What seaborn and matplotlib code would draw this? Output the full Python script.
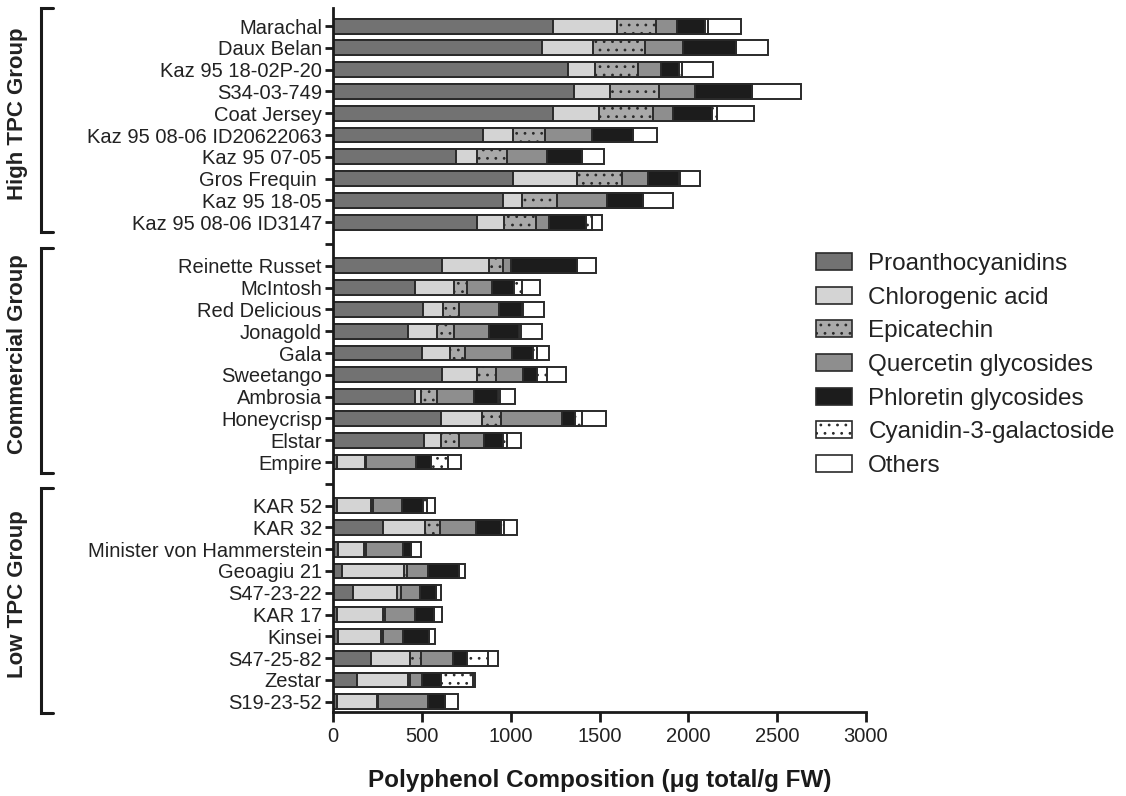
import numpy as np
import pandas as pd
import matplotlib
matplotlib.use("Agg")
import matplotlib.pyplot as plt
import matplotlib.transforms as mtransforms
from matplotlib.patches import Patch
import seaborn as sns

# ---------------- data ----------------
high = ["Marachal", "Daux Belan", "Kaz 95 18-02P-20", "S34-03-749", "Coat Jersey",
        "Kaz 95 08-06 ID20622063", "Kaz 95 07-05", "Gros Frequin ", "Kaz 95 18-05",
        "Kaz 95 08-06 ID3147"]
commercial = ["Reinette Russet", "McIntosh", "Red Delicious", "Jonagold", "Gala",
              "Sweetango", "Ambrosia", "Honeycrisp", "Elstar", "Empire"]
low = ["KAR 52", "KAR 32", "Minister von Hammerstein", "Geoagiu 21", "S47-23-22",
       "KAR 17", "Kinsei", "S47-25-82", "Zestar", "S19-23-52"]
varieties = high + commercial + low

components = ["Proanthocyanidins", "Chlorogenic acid", "Epicatechin",
              "Quercetin glycosides", "Phloretin glycosides",
              "Cyanidin-3-galactoside", "Others"]

proanthocyanidins = [1236, 1174, 1324, 1354, 1240, 842, 690, 1011, 958, 809,
                     612, 463, 508, 420, 501, 615, 460, 606, 512, 24,
                     21, 283, 30, 51, 114, 21, 30, 214, 133, 21]
chlorogenic_acid = [360, 291, 150, 203, 258, 173, 118, 364, 107, 153,
                    266, 218, 109, 163, 157, 197, 33, 232, 94, 156,
                    191, 235, 144, 349, 248, 262, 240, 219, 291, 225]
epicatechin = [221, 292, 244, 276, 301, 178, 169, 251, 194, 180,
               80, 75, 90, 98, 83, 103, 90, 106, 103, 5,
               11, 84, 10, 18, 19, 10, 10, 60, 9, 8]
quercetin = [117, 214, 129, 206, 116, 263, 229, 148, 281, 75,
             42, 139, 225, 199, 268, 156, 212, 343, 139, 282,
             167, 201, 208, 118, 109, 168, 116, 184, 68, 282]
phloretin = [159, 297, 102, 319, 216, 234, 193, 175, 206, 205,
             375, 125, 130, 165, 115, 79, 132, 75, 107, 84,
             115, 141, 47, 175, 90, 107, 146, 79, 107, 94]
cyanidin = [15, 0, 13, 0, 31, 0, 0, 6, 0, 34,
            0, 45, 9, 11, 22, 52, 14, 37, 22, 94,
            22, 18, 0, 0, 0, 0, 0, 114, 178, 0]
others = [186, 182, 175, 277, 207, 135, 128, 110, 169, 59,
          103, 98, 116, 120, 71, 111, 85, 139, 83, 74,
          47, 72, 54, 30, 28, 44, 30, 57, 15, 75]

groups = ["High TPC Group", "Commercial Group", "Low TPC Group"]

# ---------------- styles ----------------
colors = ["#727272", "#d4d4d4", "#a9a9a9", "#8e8e8e", "#1c1c1c", "#ffffff", "#ffffff"]
hatches = [None, None, "..", None, None, "..", None]

series = [proanthocyanidins, chlorogenic_acid, epicatechin, quercetin,
          phloretin, cyanidin, others]
df = pd.DataFrame({"Variety": varieties})
cum = np.zeros(len(varieties))
for name, vals in zip(components, series):
    cum = cum + np.array(vals, dtype=float)
    df[name] = cum.copy()

order = high + [" "] + commercial + ["  "] + low

sns.set_style("white")
plt.rcParams["font.family"] = ["Liberation Sans", "DejaVu Sans"]
plt.rcParams["hatch.linewidth"] = 0.8
plt.rcParams["hatch.color"] = "#2a2a2a"

fig = plt.figure(figsize=(11.26, 7.96), dpi=100)
ax = fig.add_axes([333 / 1126, 1 - 712 / 796, (866 - 333) / 1126, (712 - 8) / 796])

for i in range(len(components) - 1, -1, -1):
    sns.barplot(data=df, x=components[i], y="Variety", order=order, orient="h",
                color=colors[i], saturation=1, errorbar=None, width=0.68,
                edgecolor="#2a2a2a", linewidth=1.4, hatch=hatches[i], ax=ax)

ax.set_xlim(0, 3000)
ax.set_ylim(31.47, -0.83)
ax.set_xticks([0, 500, 1000, 1500, 2000, 2500, 3000])
ax.set_ylabel("")
ax.set_xlabel("Polyphenol Composition (\u03bcg total/g FW)", fontsize=17.5,
              fontweight="bold", labelpad=17, color="#1a1a1a")
for s in ["top", "right"]:
    ax.spines[s].set_visible(False)
for s in ["left", "bottom"]:
    ax.spines[s].set_linewidth(2)
    ax.spines[s].set_color("#1a1a1a")
ax.tick_params(axis="x", direction="out", length=7, width=2, labelsize=14.5,
               colors="#1a1a1a", labelcolor="#222222", bottom=True)
ax.tick_params(axis="y", direction="out", length=6, width=2, labelsize=14.5,
               colors="#1a1a1a", labelcolor="#222222", left=True, pad=2)

# group brackets
trans = mtransforms.blended_transform_factory(fig.transFigure, ax.transData)
bx = 41 / 1126
ex = 53 / 1126
brackets = [(-0.83, 9.45), (10.18, 20.5), (21.2, 31.5)]
for (y0, y1), g in zip(brackets, groups):
    ax.plot([ex, bx, bx, ex], [y0, y0, y1, y1], transform=trans, color="#1a1a1a",
            lw=2.2, clip_on=False, solid_joinstyle="miter")
    ax.text(18 / 1126, (y0 + y1) / 2 - 0.3, g, transform=trans, rotation=90,
            ha="center", va="center", fontsize=16, fontweight="bold",
            color="#222222")

# legend
handles = [Patch(facecolor=c, edgecolor="#2a2a2a", hatch=h, linewidth=1.2)
           for c, h in zip(colors, hatches)]
fig.legend(handles, components, loc="upper left",
           bbox_to_anchor=(816 / 1126, 1 - 253 / 796), frameon=False,
           fontsize=17.5, handlelength=1.5, handleheight=0.7,
           labelspacing=0.48, handletextpad=0.65, borderpad=0,
           borderaxespad=0, labelcolor="#222222")

fig.savefig("out.png", dpi=100)
